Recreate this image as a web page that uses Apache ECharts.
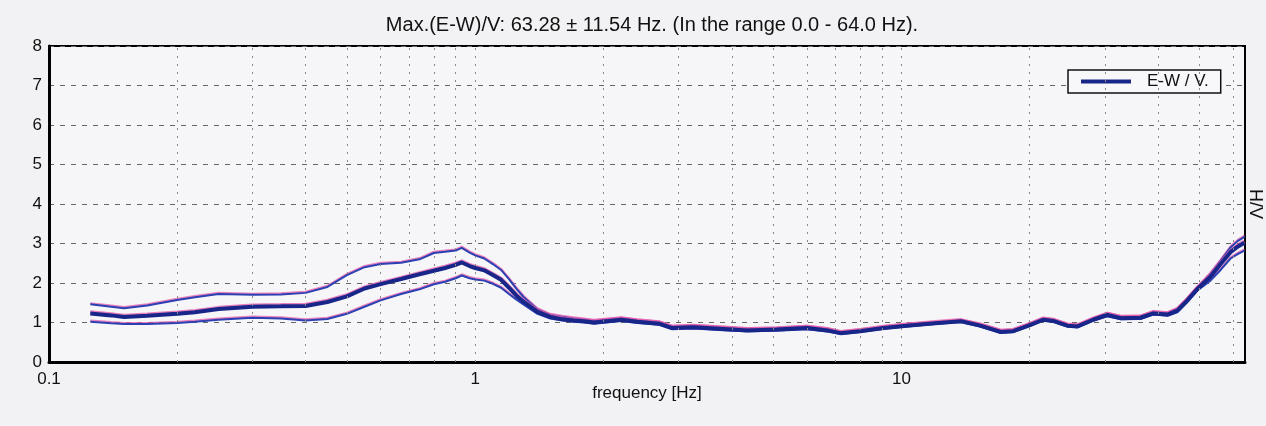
<!DOCTYPE html>
<html>
<head>
<meta charset="utf-8">
<script src="https://cdn.jsdelivr.net/npm/echarts@6.0.0/dist/echarts.min.js"></script>
<style>
html, body { margin: 0; padding: 0; background: #f2f2f4; }
#main { width: 1266px; height: 426px; }
</style>
</head>
<body>
<div id="main"></div>
<script>
// frequencies [Hz] and H/V values
var freq = [0.125, 0.14, 0.15, 0.17, 0.2, 0.22, 0.25, 0.3, 0.35, 0.4, 0.45, 0.5, 0.55, 0.6, 0.67, 0.74,
    0.8, 0.85, 0.9, 0.93, 0.97, 1.0, 1.05, 1.1, 1.15, 1.2, 1.25, 1.3, 1.4, 1.5, 1.6, 1.7, 1.8, 1.9,
    2.2, 2.4, 2.7, 2.9, 3.25, 3.9, 4.35, 5.1, 6.0, 6.7, 7.2, 8.0, 9.1, 10.3, 12, 13.8, 15.3, 17.1,
    18.3, 20.1, 21.5, 22.7, 24.5, 25.9, 28.2, 30.4, 32.7, 36.4, 39.0, 42.1, 44.4, 46.9, 49.5, 53.1,
    56.1, 59.2, 61.5, 63.8];
var hvUpper = [1.46, 1.40, 1.36, 1.43, 1.57, 1.64, 1.72, 1.70, 1.71, 1.75, 1.90, 2.20, 2.40, 2.48, 2.51, 2.60,
    2.76, 2.79, 2.82, 2.89, 2.77, 2.70, 2.62, 2.48, 2.33, 2.10, 1.85, 1.64, 1.33, 1.19, 1.14, 1.10, 1.07, 1.04,
    1.10, 1.05, 1.00, 0.89, 0.91, 0.86, 0.83, 0.85, 0.89, 0.83, 0.75, 0.80, 0.88, 0.94, 0.99, 1.04, 0.94, 0.78,
    0.80, 0.96, 1.09, 1.06, 0.94, 0.92, 1.09, 1.22, 1.14, 1.14, 1.26, 1.23, 1.34, 1.60, 1.88, 2.23,
    2.56, 2.90, 3.06, 3.17];
var hvMean = [1.23, 1.18, 1.14, 1.17, 1.22, 1.26, 1.34, 1.40, 1.41, 1.42, 1.52, 1.66, 1.86, 1.97, 2.10, 2.22,
    2.31, 2.38, 2.46, 2.52, 2.43, 2.38, 2.32, 2.20, 2.08, 1.88, 1.68, 1.52, 1.27, 1.14, 1.08, 1.05, 1.03, 1.00,
    1.07, 1.02, 0.97, 0.86, 0.88, 0.83, 0.80, 0.82, 0.86, 0.80, 0.73, 0.78, 0.86, 0.92, 0.98, 1.03, 0.92, 0.76,
    0.78, 0.94, 1.07, 1.04, 0.92, 0.90, 1.07, 1.19, 1.11, 1.12, 1.23, 1.20, 1.30, 1.56, 1.85, 2.16,
    2.48, 2.78, 2.92, 3.02];
var hvLower = [1.02, 0.98, 0.96, 0.96, 0.99, 1.02, 1.07, 1.12, 1.10, 1.05, 1.09, 1.22, 1.40, 1.56, 1.72, 1.84,
    1.97, 2.03, 2.12, 2.19, 2.12, 2.09, 2.06, 1.98, 1.88, 1.72, 1.58, 1.45, 1.22, 1.10, 1.05, 1.02, 1.00, 0.97,
    1.04, 0.99, 0.94, 0.83, 0.85, 0.80, 0.78, 0.79, 0.83, 0.77, 0.71, 0.76, 0.84, 0.90, 0.96, 1.01, 0.90, 0.74,
    0.76, 0.92, 1.05, 1.02, 0.90, 0.88, 1.05, 1.16, 1.08, 1.09, 1.20, 1.17, 1.26, 1.52, 1.81, 2.06,
    2.33, 2.62, 2.73, 2.82];
// vertical dotted grid positions on the log axis
var gridFreq = [0.2, 0.3, 0.4, 0.5, 0.6, 0.7, 0.8, 0.9, 1, 2, 3, 4, 5, 6, 7, 8, 9, 10, 20, 30, 40, 50, 60];

var FONT = "'Liberation Sans', Arial, sans-serif";

function pairs(ys) {
    return freq.map(function (f, i) { return [f, ys[i]]; });
}

var chartDom = document.getElementById('main');
var myChart = echarts.init(chartDom, null, { renderer: 'canvas' });

var fringe = {
    shadowColor: 'rgba(230, 90, 170, 0.75)',
    shadowBlur: 0,
    shadowOffsetX: 0,
    shadowOffsetY: -1.2
};

var option = {
    animation: false,
    backgroundColor: '#f2f2f4',
    textStyle: { fontFamily: FONT },
    title: {
        text: 'Max.(E-W)/V: 63.28 ± 11.54 Hz. (In the range 0.0 - 64.0 Hz).',
        left: 647,
        textAlign: 'center',
        top: 10,
        textStyle: { fontSize: 20, fontWeight: 'normal', color: '#111', fontFamily: FONT }
    },
    grid: {
        left: 49,
        right: 21,
        top: 46,
        bottom: 64,
        outerBoundsMode: 'none',
        containLabel: false,
        show: true,
        backgroundColor: '#f6f6f8',
        borderColor: '#000',
        borderWidth: 2
    },
    legend: {
        data: ['E-W / V.'],
        left: 1068,
        top: 70,
        icon: 'rect',
        itemWidth: 50,
        itemHeight: 4,
        padding: [3, 12, 3, 13],
        borderColor: '#111',
        borderWidth: 1.5,
        backgroundColor: '#f8f8fa',
        textStyle: { fontSize: 17, color: '#111', fontFamily: FONT, padding: [0, 0, 0, 11] }
    },
    xAxis: {
        type: 'log',
        logBase: 10,
        min: 0.1,
        max: 64,
        name: 'frequency [Hz]',
        nameLocation: 'middle',
        nameGap: 23,
        nameMoveOverlap: false,
        nameTextStyle: { fontSize: 17, color: '#111', fontFamily: FONT },
        axisLine: { lineStyle: { color: '#000', width: 3 } },
        axisTick: { show: false },
        splitLine: { show: false },
        axisLabel: {
            fontSize: 17,
            color: '#111',
            margin: 9,
            formatter: function (v) {
                var l = Math.log10(v);
                if (Math.abs(l - Math.round(l)) > 1e-6) return '';
                return String(Math.pow(10, Math.round(l)));
            }
        }
    },
    yAxis: [{
        type: 'value',
        min: 0,
        max: 8,
        interval: 1,
        axisLine: { show: true, lineStyle: { color: '#000', width: 3 } },
        axisTick: { show: false },
        axisLabel: { fontSize: 17, color: '#111', margin: 7 },
        splitLine: { show: true, lineStyle: { color: '#666', type: [5, 6], width: 1 } }
    }, {
        type: 'value',
        position: 'right',
        min: 0,
        max: 8,
        interval: 1,
        name: 'H/V',
        nameLocation: 'middle',
        nameRotate: -90,
        nameGap: 1,
        nameMoveOverlap: false,
        nameTextStyle: { fontSize: 18, color: '#111', fontFamily: FONT },
        axisLine: { show: true, lineStyle: { color: '#000', width: 2 } },
        axisTick: { show: false },
        axisLabel: { show: false },
        splitLine: { show: false }
    }],
    series: [{
        name: 'grid',
        type: 'line',
        data: [],
        silent: true,
        z: 1,
        markLine: {
            silent: true,
            symbol: 'none',
            label: { show: false },
            lineStyle: { color: '#8a8a8a', type: [2, 6], width: 1 },
            data: gridFreq.map(function (f) { return { xAxis: f }; })
        }
    }, {
        name: 'upper',
        type: 'line',
        data: pairs(hvUpper),
        showSymbol: false,
        z: 2,
        color: '#2b41b3',
        lineStyle: Object.assign({ width: 2, color: '#2b41b3' }, fringe)
    }, {
        name: 'lower',
        type: 'line',
        data: pairs(hvLower),
        showSymbol: false,
        z: 2,
        color: '#2b41b3',
        lineStyle: Object.assign({ width: 2, color: '#2b41b3' }, fringe)
    }, {
        name: 'E-W / V.',
        type: 'line',
        data: pairs(hvMean),
        showSymbol: false,
        z: 3,
        color: '#18268a',
        lineStyle: Object.assign({ width: 4, color: '#18268a' }, fringe)
    }]
};

option && myChart.setOption(option);
</script>
</body>
</html>
